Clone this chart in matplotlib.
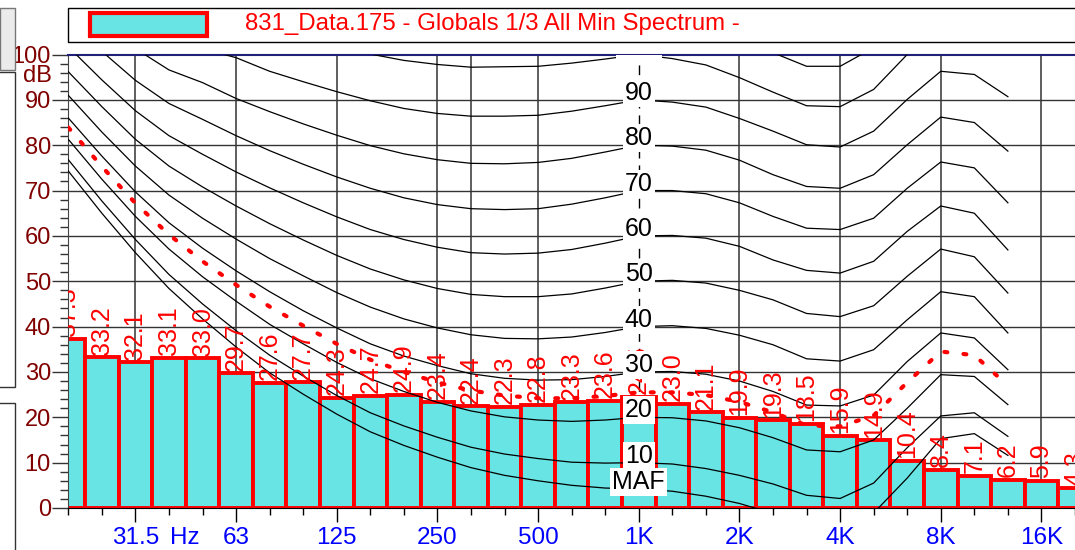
import numpy as np
import matplotlib.pyplot as plt
from matplotlib.patches import Rectangle

plt.rcParams['font.family'] = ['Liberation Sans', 'DejaVu Sans']

#----------------1/3 octave bands and the measured minimum spectrum
bands = ["20", "25", "31.5", "40", "50", "63", "80", "100", "125", "160",
         "200", "250", "315", "400", "500", "630", "800", "1K", "1.25K", "1.6K",
         "2K", "2.5K", "3.15K", "4K", "5K", "6.3K", "8K", "10K", "12.5K", "16K", "20K"]
levels = [37.3, 33.2, 32.1, 33.1, 33.0, 29.7, 27.6, 27.7, 24.3, 24.7,
          24.9, 23.4, 22.4, 22.3, 22.8, 23.3, 23.6, 24.5, 23.0, 21.1,
          19.9, 19.3, 18.5, 15.9, 14.9, 10.4, 8.4, 7.1, 6.2, 5.9, 4.3]

octave_labels = ["31.5", "63", "125", "250", "500", "1K", "2K", "4K", "8K", "16K"]

#----------------equal loudness contours (20 Hz .. 12.5 kHz)
maf = [74.3, 65.0, 56.3, 48.4, 41.7, 35.5, 29.8, 25.1, 20.7, 16.8, 13.8, 11.2, 8.9, 7.2, 6.0,
       5.0, 4.4, 4.2, 3.7, 2.6, 1.0, -1.2, -3.6, -3.9, -1.1, 6.6, 15.3, 16.4, 11.6]
phon10 = [76.8, 67.7, 59.2, 51.5, 45.0, 39.1, 33.7, 29.1, 24.8, 21.0, 18.1, 15.6, 13.4, 11.9, 10.9,
          10.1, 9.9, 10.0, 9.7, 8.7, 7.2, 5.3, 2.8, 2.1, 5.5, 13.3, 20.3, 21.0, 15.8]
phon20 = [81.3, 72.5, 64.3, 57.1, 51.0, 45.6, 40.5, 36.2, 32.1, 28.5, 25.7, 23.3, 21.4, 20.1, 19.4,
          19.1, 19.4, 20.0, 19.9, 19.2, 17.7, 15.5, 12.8, 12.4, 15.0, 22.0, 29.4, 29.0, 22.8]
phon30 = [86.0, 77.6, 69.7, 62.9, 57.3, 52.3, 47.7, 43.5, 39.7, 36.2, 33.5, 31.4, 29.6, 28.6, 28.2,
          28.3, 29.0, 30.0, 30.1, 29.5, 28.0, 25.7, 22.7, 22.5, 24.9, 32.3, 38.6, 37.5, 30.5]
phon40 = [91.0, 82.9, 75.4, 69.0, 63.9, 59.3, 55.0, 51.2, 47.5, 44.3, 41.7, 39.7, 38.2, 37.4, 37.3,
          37.7, 38.7, 40.0, 40.2, 39.6, 38.1, 36.0, 32.9, 32.4, 34.9, 41.5, 47.7, 46.6, 38.6]
phon50 = [96.2, 88.5, 81.3, 75.4, 70.8, 66.6, 62.7, 59.1, 55.7, 52.7, 50.3, 48.4, 47.1, 46.6, 46.6,
          47.2, 48.5, 50.0, 50.2, 49.6, 48.0, 45.9, 42.9, 42.2, 44.6, 51.1, 57.1, 55.4, 47.4]
phon60 = [101.7, 94.4, 87.6, 82.1, 78.0, 74.1, 70.6, 67.3, 64.2, 61.4, 59.2, 57.5, 56.3, 56.0, 56.2,
          57.0, 58.4, 60.0, 60.1, 59.5, 57.7, 54.7, 52.4, 51.8, 54.4, 61.0, 66.6, 65.0, 56.9]
phon70 = [107.6, 100.7, 94.3, 89.2, 85.7, 82.1, 78.8, 75.8, 73.0, 70.5, 68.4, 66.9, 66.0, 65.8, 66.0,
          67.0, 68.4, 70.0, 70.0, 69.3, 67.3, 64.3, 61.7, 61.4, 63.9, 70.5, 76.3, 75.0, 67.3]
phon80 = [113.7, 107.3, 101.3, 96.6, 93.8, 90.3, 87.4, 84.7, 82.2, 79.9, 78.1, 76.8, 76.0, 75.9, 76.2,
          77.1, 78.5, 80.0, 79.8, 78.9, 76.7, 73.5, 70.9, 70.5, 73.5, 80.1, 86.2, 85.0, 78.7]
phon90 = [120.0, 114.0, 108.7, 104.4, 101.3, 99.3, 96.3, 94.0, 91.8, 89.8, 88.1, 87.0, 86.4, 86.4, 86.6,
          87.5, 88.7, 90.0, 89.5, 88.4, 85.9, 83.1, 80.1, 79.6, 83.1, 90.1, 96.3, 95.6, 90.7]
phon100 = [130.0, 125.0, 120.0, 116.0, 112.3, 108.9, 105.6, 103.6, 101.8, 100.1, 98.7, 97.8, 97.2, 97.3, 97.4,
           98.1, 99.0, 100.0, 99.1, 97.7, 94.9, 91.7, 88.7, 88.5, 92.3, 100.0, 106.0, 105.5, 101.0]
phon110 = [136.0, 131.0, 126.0, 121.0, 118.0, 116.0, 115.3, 113.7, 112.3, 110.9, 109.7, 109.0, 108.6, 108.6, 108.6,
           109.0, 109.5, 110.0, 108.6, 107.0, 103.8, 100.4, 97.4, 97.4, 101.5, 110.0, 116.0, 115.0, 111.0]
contour_names = ["MAF", "10", "20", "30", "40", "50", "60", "70", "80", "90", "100", "110"]
contours = [maf, phon10, phon20, phon30, phon40, phon50, phon60, phon70, phon80, phon90, phon100, phon110]

# loudness contour of the spectrum (red dotted)
spectrum_contour = [83.9, 75.3, 67.2, 60.3, 54.4, 49.2, 44.4, 40.2, 36.2, 32.7, 30.0, 27.7, 25.9, 24.8, 24.2,
                    24.2, 24.7, 25.5, 25.5, 24.9, 23.4, 21.1, 18.2, 18.0, 20.4, 27.7, 34.5, 33.7, 27.0]

W, H = 1075, 550
cyan = '#68e4e4'

fig = plt.figure(figsize=(W / 100, H / 100), dpi=100)
ax = fig.add_axes([68.3 / W, 1 - 508 / H, 1 - 68.3 / W, (508 - 54.5) / H])

x = np.arange(len(bands))
xc = np.arange(len(maf))
ax.set_xlim(0, (W - 68.3) / 33.73)
ax.set_ylim(0, 100)

#-------------grid
for yv in range(10, 100, 10):
    ax.axhline(yv, color='#333333', lw=1, zorder=1)
octave_pos = [bands.index(b) for b in octave_labels]
for xv in octave_pos + [bands.index("315")]:
    if bands[xv] == "1K":
        ax.axvline(xv, color='black', lw=1, ls=(0, (7, 5)), zorder=1)
    else:
        ax.axvline(xv, color='#333333', lw=1.1, zorder=1)

#-------------spectrum bars
ax.bar(x, levels, width=1.0, color=cyan, edgecolor='red', linewidth=2.8, zorder=2)
for xi, v in zip(x, levels):
    ax.annotate("%.1f" % v, (xi, v), xytext=(0, 2), textcoords='offset points',
                rotation=90, ha='center', va='bottom', color='red', fontsize=18,
                zorder=4, annotation_clip=False, clip_on=True)

#-------------contours
for vals in contours:
    ax.plot(xc, vals, color='black', lw=0.9, zorder=3)
ax.plot(xc, spectrum_contour, color='red', lw=3, ls=(0, (0.7, 3.9)),
        dash_capstyle='round', zorder=3)

k1 = bands.index("1K")
for name, vals in zip(contour_names, contours):
    if vals[k1] > 100:
        continue
    ax.text(k1, vals[k1], name, ha='center', va='baseline', fontsize=18, color='black',
            bbox=dict(boxstyle='square,pad=0.08', fc='white', ec='none'), zorder=6, clip_on=True)

#-------------axes and ticks
ax.spines['right'].set_visible(False)
ax.spines['top'].set_color('#20207a')
ax.spines['top'].set_linewidth(1.5)
ax.spines['left'].set_color('#444444')
ax.spines['bottom'].set_color('black')

ax.set_yticks(range(0, 101, 10))
ax.set_yticks(range(0, 101, 2), minor=True)
ax.tick_params(axis='y', which='major', length=11.5, width=1, pad=1, labelsize=17,
               labelcolor='#800000', color='#333333')
ax.tick_params(axis='y', which='minor', length=5.8, width=1, color='#333333')
ax.annotate("dB", xy=(0, 95.2), xycoords=('axes fraction', 'data'), xytext=(-11.5, 0),
            textcoords='offset points', ha='right', va='center', color='#800000', fontsize=17)

ax.set_xticks(octave_pos)
ax.set_xticklabels(octave_labels)
ax.set_xticks(x, minor=True)
ax.tick_params(axis='x', which='major', length=10, width=1, pad=3.5, labelsize=17.5,
               labelcolor='#0000ff')
ax.tick_params(axis='x', which='minor', length=5, width=1)
ax.annotate("Hz", xy=(3.46, 0), xycoords=('data', 'axes fraction'), xytext=(0, -13.5),
            textcoords='offset points', ha='center', va='top', color='#0000ff', fontsize=17.5)

#-------------legend and side panels
def px(x0, y0, x1, y1):
    return (x0 / W, 1 - y1 / H), (x1 - x0) / W, (y1 - y0) / H

for (x0, y0, x1, y1, fc, ec) in [(0, 8, 15, 70, '#ebebeb', '#777777'),
                                 (-2, 72, 15, 387, 'white', '#333333'),
                                 (-2, 403, 15, 560, 'white', '#333333'),
                                 (68.3, 8.3, 1090, 41.5, 'white', 'black')]:
    xy, w, h = px(x0, y0, x1, y1)
    fig.add_artist(Rectangle(xy, w, h, transform=fig.transFigure, fc=fc, ec=ec, lw=1))
xy, w, h = px(89.5, 13, 207, 36)
fig.add_artist(Rectangle(xy, w, h, transform=fig.transFigure, fc=cyan, ec='red', lw=3))
fig.text(245 / W, 1 - 24 / H, "831_Data.175 - Globals 1/3 All Min Spectrum -",
         color='red', fontsize=17.3, va='center', ha='left')

fig.savefig("out.png", dpi=100)
